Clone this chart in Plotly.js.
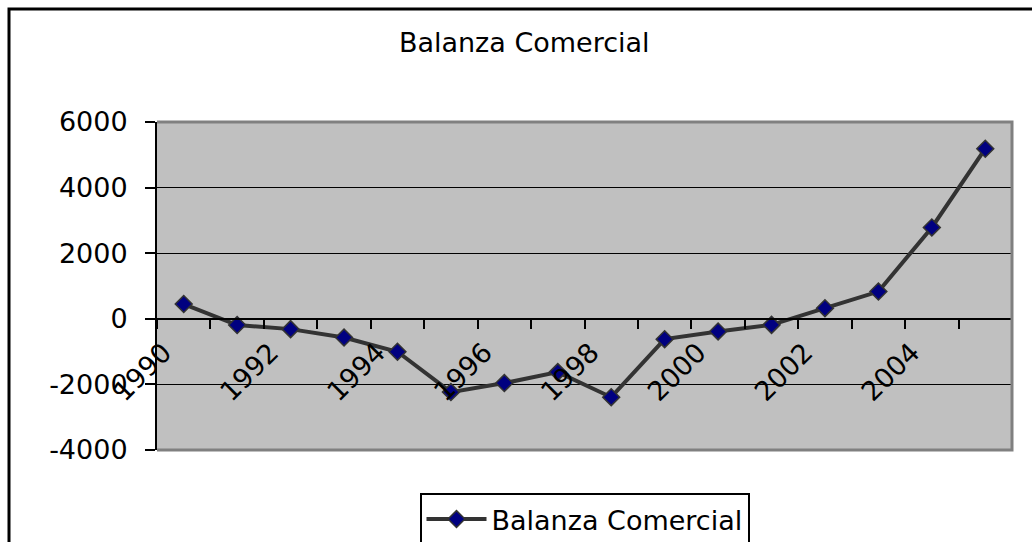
<!DOCTYPE html>
<html>
<head>
<meta charset="utf-8">
<script src="https://cdn.plot.ly/plotly-3.0.1.min.js"></script>
<style>
html,body{margin:0;padding:0;background:#fff;}
#chart{width:1032px;height:542px;}
</style>
</head>
<body>
<div id="chart"></div>
<script>
// ---- data ----
const years = [1990,1991,1992,1993,1994,1995,1996,1997,1998,1999,2000,2001,2002,2003,2004,2005];
const balanza = [450,-190,-315,-570,-1005,-2235,-1960,-1625,-2390,-620,-385,-185,325,830,2785,5185];
const labelYears = [1990,1992,1994,1996,1998,2000,2002,2004];
const yTicks = [-4000,-2000,0,2000,4000,6000];
const seriesName = 'Balanza Comercial';
const chartTitle = 'Balanza Comercial';

// ---- layout helpers ----
const W = 1032, H = 542;
const mL = 157, mR = 20, mT = 122, mB = 92;
const pw = W - mL - mR, ph = H - mT - mB;
const yMin = -4000, yMax = 6000;
const zeroPos = (0 - yMin) / (yMax - yMin);
const xRange = [years[0] - 0.5, years[years.length - 1] + 0.5];
const boundaries = years.map(y => y - 0.5).concat([years[years.length - 1] + 0.5]);
const px2x = p => (p - mL) / pw;
const px2y = p => (H - mB - p) / ph;
const FONT = 'DejaVu Sans, Liberation Sans, Arial, sans-serif';
const FS = 27;

const trace = {
  x: years, y: balanza, type: 'scatter', mode: 'lines+markers', name: seriesName,
  line: {color: '#333333', width: 4},
  marker: {symbol: 'diamond', size: 13, color: '#000080', line: {color: '#333333', width: 1.5}},
  xaxis: 'x', yaxis: 'y'
};
const dummy = {x: [xRange[0]], y: [0], xaxis: 'x2', yaxis: 'y', mode: 'markers',
  marker: {opacity: 0}, showlegend: false, hoverinfo: 'skip'};

const layout = {
  width: W, height: H,
  margin: {l: mL, r: mR, t: mT, b: mB, pad: 0},
  paper_bgcolor: '#ffffff', plot_bgcolor: '#c0c0c0',
  font: {family: FONT, size: FS, color: '#000'},
  title: {text: chartTitle, xref: 'container', x: 0.508, xanchor: 'center',
          yref: 'container', y: 1 - 43 / H, yanchor: 'middle',
          font: {family: FONT, size: FS, color: '#000'}},
  showlegend: true,
  legend: {orientation: 'h', xref: 'paper', x: 0.5, xanchor: 'center',
           yref: 'container', y: 1 - 493 / H, yanchor: 'top',
           bordercolor: '#000', borderwidth: 2, bgcolor: '#fff', itemwidth: 60,
           font: {family: FONT, size: FS, color: '#000'}},
  xaxis: {range: xRange, anchor: 'free', position: zeroPos,
          tickmode: 'array', tickvals: labelYears, ticktext: labelYears.map(String),
          tickangle: -45, ticks: '', showgrid: false, zeroline: false,
          showline: true, linecolor: '#000', linewidth: 2,
          ticklabelstandoff: 6, ticklabelshift: -20,
          tickfont: {family: FONT, size: FS, color: '#000'}, fixedrange: true},
  xaxis2: {range: xRange, overlaying: 'x', anchor: 'free', position: zeroPos,
           tickmode: 'array', tickvals: boundaries, ticks: 'outside', ticklen: 9,
           tickwidth: 2, tickcolor: '#000', showticklabels: false, showgrid: false,
           zeroline: false, showline: false, side: 'bottom'},
  yaxis: {range: [yMin, yMax], domain: [0, 1], tickmode: 'array', tickvals: yTicks,
          ticktext: yTicks.map(String), ticks: 'outside', ticklen: 10, tickwidth: 2,
          tickcolor: '#000', showline: true, linecolor: '#000', linewidth: 2,
          showgrid: true, gridcolor: '#000', gridwidth: 1, zeroline: false,
          ticklabelstandoff: 12,
          tickfont: {family: FONT, size: FS, color: '#000'}, fixedrange: true},
  shapes: [
    {type: 'path', xref: 'paper', yref: 'paper', path: 'M0,1 L1,1 L1,0 L0,0',
     line: {color: '#808080', width: 3}, layer: 'above'},
    {type: 'rect', xref: 'paper', yref: 'paper', x0: px2x(9), x1: px2x(1045),
     y0: px2y(9), y1: px2y(600), line: {color: '#000', width: 3}, layer: 'above'}
  ]
};

Plotly.newPlot('chart', [trace, dummy], layout, {staticPlot: true, displayModeBar: false});
</script>
</body>
</html>
